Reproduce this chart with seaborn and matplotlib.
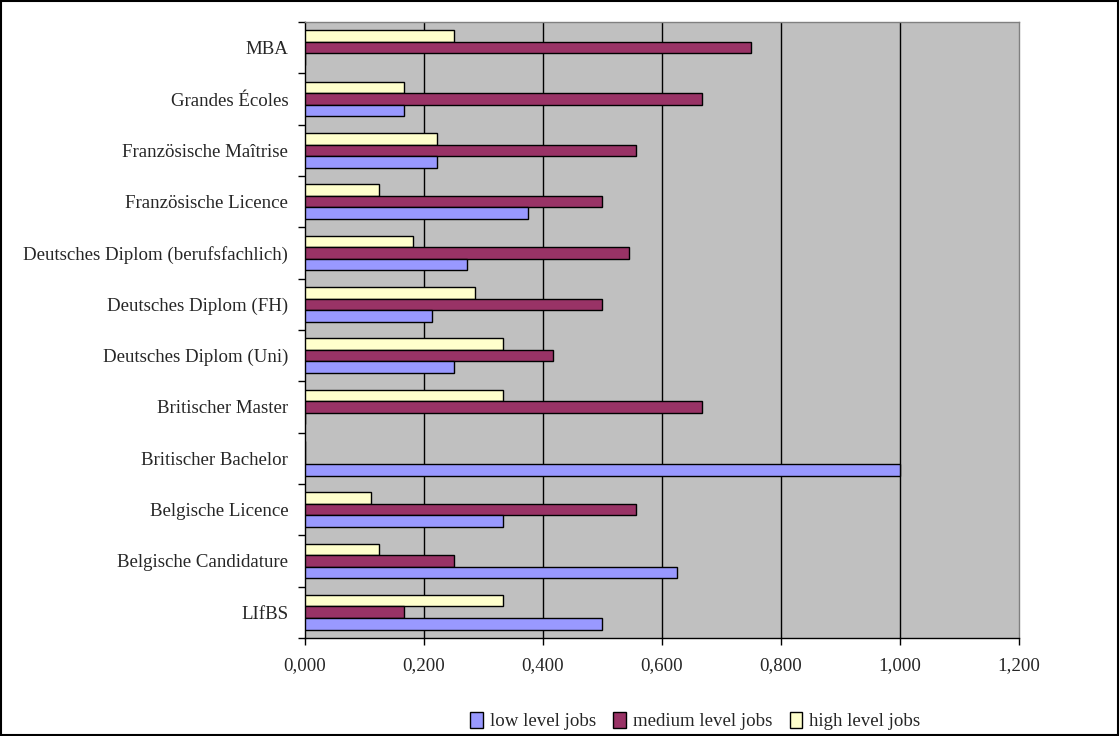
import matplotlib
matplotlib.use("Agg")
import matplotlib.pyplot as plt
from matplotlib.patches import Patch, Rectangle
from matplotlib.ticker import FuncFormatter, FixedLocator
import seaborn as sns
import pandas as pd

# Degree programmes, listed top to bottom
categories = [
    "MBA",
    "Grandes Écoles",
    "Französische Maîtrise",
    "Französische Licence",
    "Deutsches Diplom (berufsfachlich)",
    "Deutsches Diplom (FH)",
    "Deutsches Diplom (Uni)",
    "Britischer Master",
    "Britischer Bachelor",
    "Belgische Licence",
    "Belgische Candidature",
    "LIfBS",
]

# Share of graduates per job level
low_level = [0.0, 0.167, 0.222, 0.375, 0.273, 0.214, 0.250, 0.0, 1.0, 0.333, 0.625, 0.500]
medium_level = [0.750, 0.667, 0.556, 0.500, 0.545, 0.500, 0.417, 0.667, 0.0, 0.556, 0.250, 0.167]
high_level = [0.250, 0.167, 0.222, 0.125, 0.182, 0.286, 0.333, 0.333, 0.0, 0.111, 0.125, 0.333]

series_names = ["low level jobs", "medium level jobs", "high level jobs"]
series_colors = {"low level jobs": "#9999FF",
                 "medium level jobs": "#993366",
                 "high level jobs": "#FFFFCC"}
x_ticks = [0.0, 0.2, 0.4, 0.6, 0.8, 1.0, 1.2]

rows = []
for name, values in zip(series_names, [low_level, medium_level, high_level]):
    for cat, v in zip(categories, values):
        rows.append({"Abschluss": cat, "Anteil": v, "Ebene": name})
df = pd.DataFrame(rows)

sns.set_theme(style="white")
plt.rcParams["font.family"] = ["Liberation Serif", "DejaVu Serif"]
FS = 13.6

fig = plt.figure(figsize=(11.2, 7.36), dpi=100)
ax = fig.add_axes([0.2723, 0.1332, 0.6375, 0.8369])
ax.set_facecolor("#C0C0C0")

# high level bar on top within each group, low level at the bottom
hue_draw_order = ["high level jobs", "medium level jobs", "low level jobs"]
sns.barplot(data=df, y="Abschluss", x="Anteil", hue="Ebene", order=categories,
            hue_order=hue_draw_order, palette=series_colors, orient="h",
            width=0.68, edgecolor="black", linewidth=1.0, errorbar=None,
            saturation=1.0, legend=False, ax=ax, zorder=3)

ax.set_xlim(0, 1.2)
ax.set_ylim(len(categories) - 0.5, -0.5)
ax.set_xlabel("")
ax.set_ylabel("")

# vertical gridlines
for xv in x_ticks[1:-1]:
    ax.axvline(xv, color="black", lw=1.0, zorder=1)

ax.xaxis.set_major_locator(FixedLocator(x_ticks))
ax.xaxis.set_major_formatter(FuncFormatter(lambda v, p: f"{v:.3f}".replace(".", ",")))
ax.tick_params(axis="x", direction="out", length=5, width=1, color="black",
               labelsize=FS, pad=9, bottom=True)

# category labels centred, tick marks between groups
ax.set_yticks(range(len(categories)))
ax.set_yticklabels(categories)
ax.set_yticks([k - 0.5 for k in range(len(categories) + 1)], minor=True)
ax.tick_params(axis="y", which="major", length=0, labelsize=FS, pad=12)
ax.tick_params(axis="y", which="minor", direction="out", length=5, width=1,
               color="black", left=True)

for side in ["left", "bottom"]:
    ax.spines[side].set_color("black")
    ax.spines[side].set_linewidth(1.0)
for side in ["top", "right"]:
    ax.spines[side].set_color("#808080")
    ax.spines[side].set_linewidth(1.0)

handles = [Patch(facecolor=series_colors[n], edgecolor="black", linewidth=1.0, label=n)
           for n in series_names]
fig.legend(handles=handles, loc="center", bbox_to_anchor=(0.621, 0.02), ncol=3,
           frameon=False, fontsize=FS, handlelength=0.65, handleheight=0.9,
           handletextpad=0.4, columnspacing=0.9, borderaxespad=0)

fig.patches.append(Rectangle((0.001, 0.001), 0.997, 0.997, transform=fig.transFigure,
                             fill=False, edgecolor="black", linewidth=1.5))

fig.savefig("out.png", dpi=100)
